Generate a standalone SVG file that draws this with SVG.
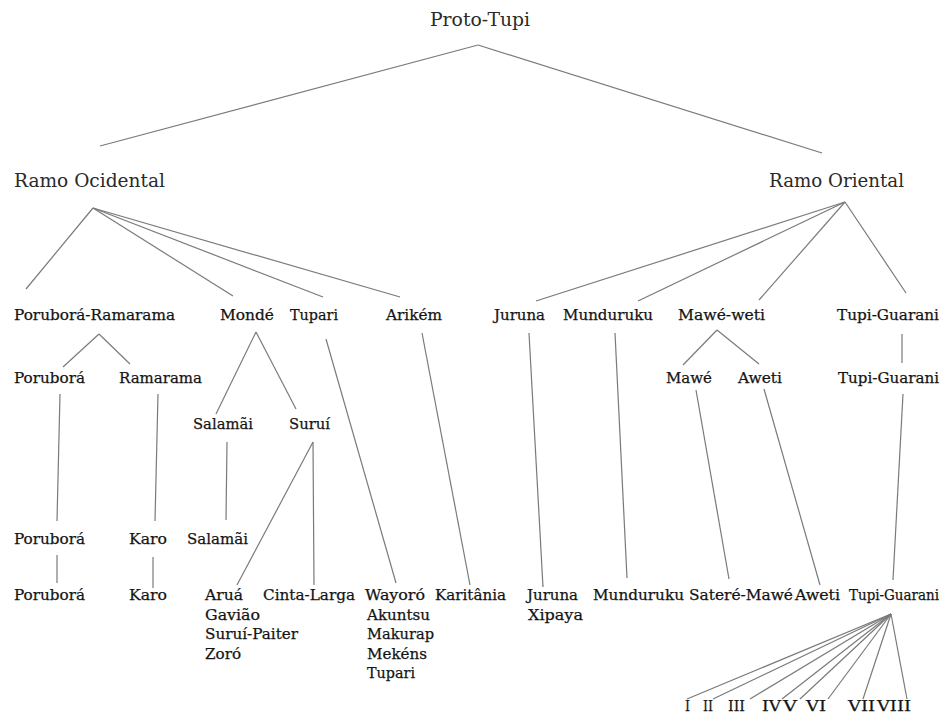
<svg xmlns="http://www.w3.org/2000/svg" width="944" height="718" viewBox="0 0 944 718">
<style>
text{font-family:"DejaVu Serif","Liberation Serif",serif;fill:#141414;font-size:15px;stroke:#141414;stroke-width:0.25}
.big{font-size:18px;fill:#2a2a2a;stroke:none}
#connectors line{stroke:#7a7a7a;stroke-width:1.2;fill:none}
</style>
<rect width="944" height="718" fill="#fff"/>
<g id="connectors">
<line x1="478" y1="45" x2="100" y2="146"/>
<line x1="478" y1="45" x2="822" y2="153"/>
<line x1="93" y1="208" x2="26" y2="289"/>
<line x1="93" y1="208" x2="233" y2="296"/>
<line x1="93" y1="208" x2="323" y2="297"/>
<line x1="93" y1="208" x2="400" y2="297"/>
<line x1="845" y1="202" x2="536" y2="301"/>
<line x1="845" y1="202" x2="638" y2="301"/>
<line x1="845" y1="202" x2="759" y2="300"/>
<line x1="845" y1="202" x2="906" y2="293"/>
<line x1="99" y1="334" x2="63" y2="367"/>
<line x1="99" y1="334" x2="130" y2="364"/>
<line x1="256" y1="332" x2="216" y2="414"/>
<line x1="256" y1="332" x2="296" y2="409"/>
<line x1="326" y1="339" x2="396" y2="583"/>
<line x1="422" y1="333" x2="470" y2="585"/>
<line x1="529" y1="333" x2="543" y2="587"/>
<line x1="615" y1="333" x2="627" y2="578"/>
<line x1="717" y1="330" x2="683" y2="365"/>
<line x1="717" y1="330" x2="759" y2="364"/>
<line x1="902" y1="334" x2="902" y2="363"/>
<line x1="60" y1="394" x2="57" y2="521"/>
<line x1="158" y1="394" x2="155" y2="521"/>
<line x1="696" y1="390" x2="729" y2="579"/>
<line x1="764" y1="389" x2="820" y2="585"/>
<line x1="903" y1="394" x2="893" y2="580"/>
<line x1="227" y1="442" x2="226" y2="520"/>
<line x1="313" y1="442" x2="237" y2="585"/>
<line x1="313" y1="442" x2="314" y2="585"/>
<line x1="57" y1="555" x2="57" y2="583"/>
<line x1="153" y1="557" x2="153" y2="588"/>
<line x1="891" y1="614" x2="687" y2="699"/>
<line x1="891" y1="614" x2="713" y2="699"/>
<line x1="891" y1="614" x2="750" y2="699"/>
<line x1="891" y1="614" x2="782" y2="699"/>
<line x1="891" y1="614" x2="800" y2="699"/>
<line x1="891" y1="614" x2="828" y2="699"/>
<line x1="891" y1="614" x2="863" y2="699"/>
<line x1="891" y1="614" x2="907" y2="699"/>
</g>
<g id="n-proto-tupi"><text class="big" x="430" y="26" textLength="100" lengthAdjust="spacingAndGlyphs">Proto-Tupi</text></g>
<g id="n-ramo-ocidental"><text class="big" x="14" y="187" textLength="151" lengthAdjust="spacingAndGlyphs">Ramo Ocidental</text></g>
<g id="n-ramo-oriental"><text class="big" x="769" y="187" textLength="135" lengthAdjust="spacingAndGlyphs">Ramo Oriental</text></g>
<g id="n-porubora-ramarama"><text x="14" y="320" textLength="161" lengthAdjust="spacingAndGlyphs">Poruborá-Ramarama</text></g>
<g id="n-monde"><text x="220" y="320" textLength="54" lengthAdjust="spacingAndGlyphs">Mondé</text></g>
<g id="n-tupari"><text x="290" y="320" textLength="48" lengthAdjust="spacingAndGlyphs">Tupari</text></g>
<g id="n-arikem"><text x="386" y="320" textLength="56" lengthAdjust="spacingAndGlyphs">Arikém</text></g>
<g id="n-juruna"><text x="494" y="320" textLength="51" lengthAdjust="spacingAndGlyphs">Juruna</text></g>
<g id="n-munduruku"><text x="563" y="320" textLength="90" lengthAdjust="spacingAndGlyphs">Munduruku</text></g>
<g id="n-mawe-weti"><text x="678" y="320" textLength="87" lengthAdjust="spacingAndGlyphs">Mawé-weti</text></g>
<g id="n-tupi-guarani-1"><text x="837" y="320" textLength="102" lengthAdjust="spacingAndGlyphs">Tupi-Guarani</text></g>
<g id="n-porubora-1"><text x="14" y="383" textLength="71" lengthAdjust="spacingAndGlyphs">Poruborá</text></g>
<g id="n-ramarama"><text x="119" y="383" textLength="83" lengthAdjust="spacingAndGlyphs">Ramarama</text></g>
<g id="n-mawe"><text x="666" y="383" textLength="46" lengthAdjust="spacingAndGlyphs">Mawé</text></g>
<g id="n-aweti-1"><text x="738" y="383" textLength="44" lengthAdjust="spacingAndGlyphs">Aweti</text></g>
<g id="n-tupi-guarani-2"><text x="838" y="383" textLength="101" lengthAdjust="spacingAndGlyphs">Tupi-Guarani</text></g>
<g id="n-salamai-1"><text x="193" y="429" textLength="60" lengthAdjust="spacingAndGlyphs">Salamãi</text></g>
<g id="n-surui"><text x="289" y="429" textLength="41" lengthAdjust="spacingAndGlyphs">Suruí</text></g>
<g id="n-porubora-2"><text x="14" y="544" textLength="71" lengthAdjust="spacingAndGlyphs">Poruborá</text></g>
<g id="n-karo-1"><text x="129" y="544" textLength="38" lengthAdjust="spacingAndGlyphs">Karo</text></g>
<g id="n-salamai-2"><text x="187" y="544" textLength="61" lengthAdjust="spacingAndGlyphs">Salamãi</text></g>
<g id="n-porubora-3"><text x="14" y="600" textLength="71" lengthAdjust="spacingAndGlyphs">Poruborá</text></g>
<g id="n-karo-2"><text x="129" y="600" textLength="38" lengthAdjust="spacingAndGlyphs">Karo</text></g>
<g id="n-arua-group">
<text x="205" y="600" textLength="38" lengthAdjust="spacingAndGlyphs">Aruá</text>
<text x="205" y="619.5" textLength="55" lengthAdjust="spacingAndGlyphs">Gavião</text>
<text x="205" y="639" textLength="93" lengthAdjust="spacingAndGlyphs">Suruí-Paiter</text>
<text x="205" y="658.5" textLength="36" lengthAdjust="spacingAndGlyphs">Zoró</text>
</g>
<g id="n-cinta-larga"><text x="263" y="600" textLength="92" lengthAdjust="spacingAndGlyphs">Cinta-Larga</text></g>
<g id="n-wayoro-group">
<text x="365" y="600" textLength="60" lengthAdjust="spacingAndGlyphs">Wayoró</text>
<text x="367" y="619.5" textLength="63" lengthAdjust="spacingAndGlyphs">Akuntsu</text>
<text x="367" y="639" textLength="67" lengthAdjust="spacingAndGlyphs">Makurap</text>
<text x="367" y="658.5" textLength="60" lengthAdjust="spacingAndGlyphs">Mekéns</text>
<text x="367" y="678" textLength="48" lengthAdjust="spacingAndGlyphs">Tupari</text>
</g>
<g id="n-karitania"><text x="435" y="600" textLength="71" lengthAdjust="spacingAndGlyphs">Karitânia</text></g>
<g id="n-juruna-xipaya">
<text x="527" y="600" textLength="51" lengthAdjust="spacingAndGlyphs">Juruna</text>
<text x="528" y="619.5" textLength="55" lengthAdjust="spacingAndGlyphs">Xipaya</text>
</g>
<g id="n-munduruku-2"><text x="593" y="600" textLength="91" lengthAdjust="spacingAndGlyphs">Munduruku</text></g>
<g id="n-satere-mawe"><text x="689" y="600" textLength="104" lengthAdjust="spacingAndGlyphs">Sateré-Mawé</text></g>
<g id="n-aweti-2"><text x="795" y="600" textLength="45" lengthAdjust="spacingAndGlyphs">Aweti</text></g>
<g id="n-tupi-guarani-3"><text x="849" y="600" style="font-size:14px" textLength="90" lengthAdjust="spacingAndGlyphs">Tupi-Guarani</text></g>
<g id="n-i"><text x="685" y="711" textLength="5" lengthAdjust="spacingAndGlyphs">I</text></g>
<g id="n-ii"><text x="703" y="711" textLength="10" lengthAdjust="spacingAndGlyphs">II</text></g>
<g id="n-iii"><text x="728" y="711" textLength="17" lengthAdjust="spacingAndGlyphs">III</text></g>
<g id="n-iv"><text x="762" y="711" textLength="19" lengthAdjust="spacingAndGlyphs">IV</text></g>
<g id="n-v"><text x="783" y="711" textLength="14" lengthAdjust="spacingAndGlyphs">V</text></g>
<g id="n-vi"><text x="806" y="711" textLength="20" lengthAdjust="spacingAndGlyphs">VI</text></g>
<g id="n-vii"><text x="848" y="711" textLength="27" lengthAdjust="spacingAndGlyphs">VII</text></g>
<g id="n-viii"><text x="877" y="711" textLength="34" lengthAdjust="spacingAndGlyphs">VIII</text></g>
</svg>
